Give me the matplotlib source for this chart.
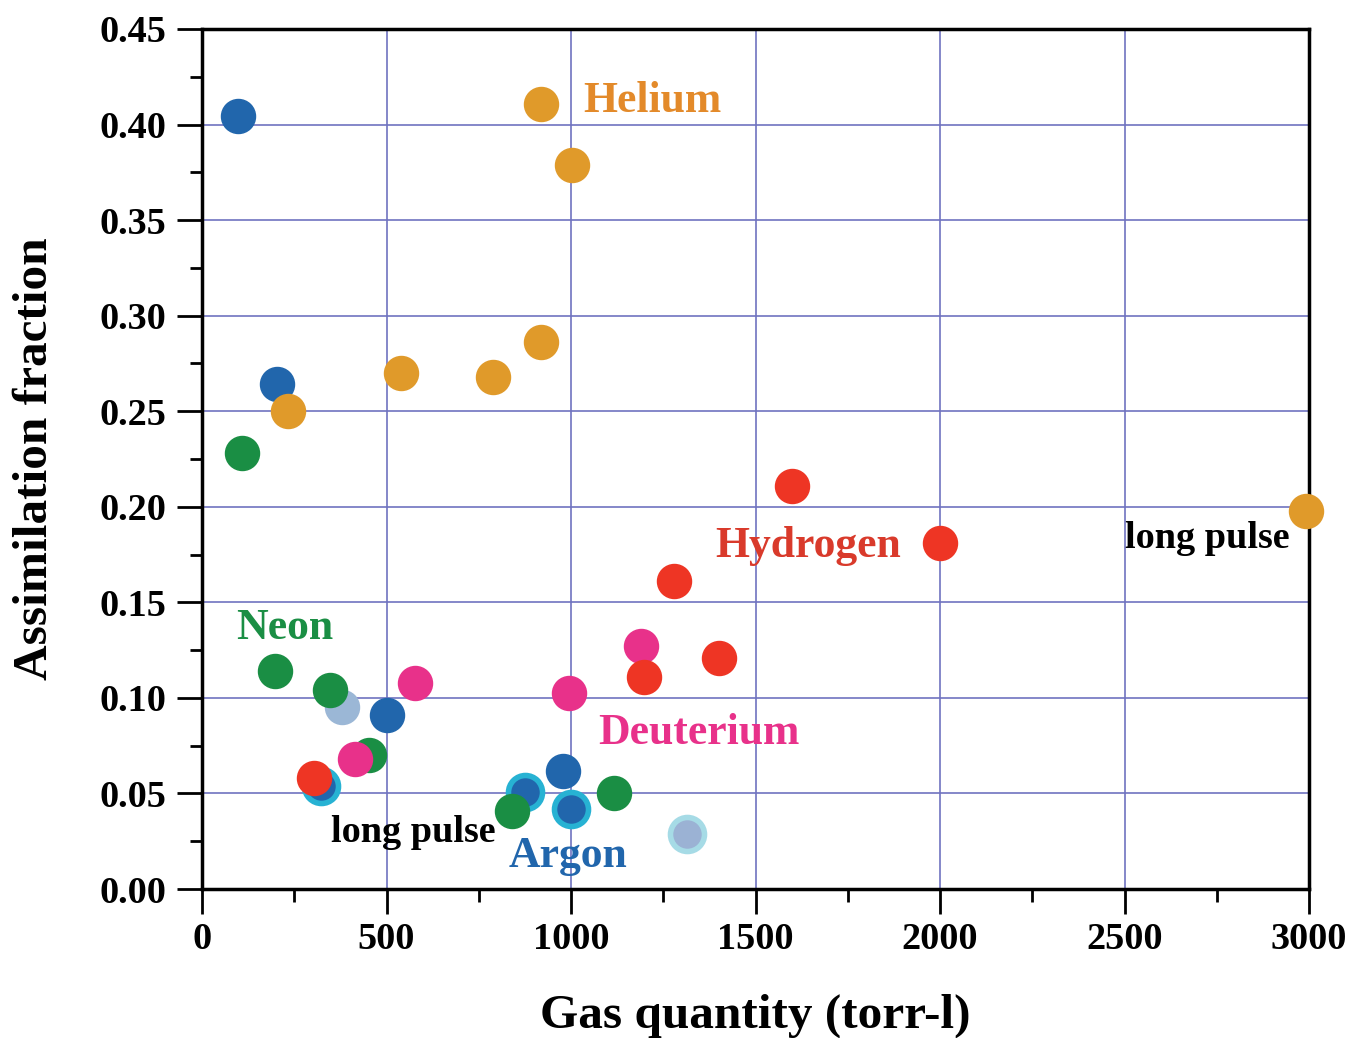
import matplotlib.pyplot as plt

# data (gas quantity in torr-l, assimilation fraction)
helium_x = [919, 1003, 919, 539, 789, 233, 2992]
helium_y = [0.411, 0.379, 0.286, 0.270, 0.268, 0.250, 0.198]

argon_x = [98, 203, 501, 978]
argon_y = [0.4045, 0.264, 0.091, 0.062]

argon_ring_x = [322, 875, 1000]
argon_ring_y = [0.054, 0.051, 0.042]

argon_light_x = [379]
argon_light_y = [0.095]

argon_light_ring_x = [1314]
argon_light_ring_y = [0.029]

neon_x = [108, 198, 347, 453, 840, 1117]
neon_y = [0.228, 0.114, 0.104, 0.070, 0.041, 0.050]

hydrogen_x = [1599, 2000, 1279, 1401, 1198, 304]
hydrogen_y = [0.211, 0.181, 0.161, 0.121, 0.111, 0.058]

deuterium_x = [1190, 577, 995, 415]
deuterium_y = [0.127, 0.108, 0.1026, 0.068]

x_ticks = [0, 500, 1000, 1500, 2000, 2500, 3000]
y_ticks = [0.00, 0.05, 0.10, 0.15, 0.20, 0.25, 0.30, 0.35, 0.40, 0.45]

plt.rcParams['font.family'] = ['Liberation Serif', 'DejaVu Serif']
plt.rcParams['font.weight'] = 'bold'

fig = plt.figure(figsize=(13.48, 10.38), dpi=100)
ax = fig.add_axes([0.1499, 0.1435, 0.8212, 0.8286])

s = 600
ax.scatter(argon_light_x, argon_light_y, s=s, color='#9bb7d6', zorder=3, clip_on=False)
ax.scatter(argon_light_ring_x, argon_light_ring_y, s=s, color='#9bb2d4', edgecolors='#a6dbe6',
           linewidths=4, zorder=3, clip_on=False)
ax.scatter(argon_ring_x, argon_ring_y, s=s, color='#2166ac', edgecolors='#27b2d3',
           linewidths=4, zorder=3, clip_on=False)
ax.scatter(argon_x, argon_y, s=s, color='#2166ac', zorder=3, clip_on=False)
ax.scatter(neon_x, neon_y, s=s, color='#1a8e44', zorder=4, clip_on=False)
ax.scatter(helium_x, helium_y, s=s, color='#e09a2a', zorder=4, clip_on=False)
ax.scatter(deuterium_x, deuterium_y, s=s, color='#e8318a', zorder=5, clip_on=False)
ax.scatter(hydrogen_x, hydrogen_y, s=s, color='#ee3524', zorder=6, clip_on=False)

fs = 31.5
ax.text(1032, 0.4125, 'Helium', color='#e38a2a', fontsize=fs, fontweight='bold', va='center')
ax.text(1390, 0.1795, 'Hydrogen', color='#d93a2b', fontsize=fs, fontweight='bold', va='center')
ax.text(92, 0.1365, 'Neon', color='#1a8e44', fontsize=fs, fontweight='bold', va='center')
ax.text(1073, 0.0815, 'Deuterium', color='#e8318a', fontsize=fs, fontweight='bold', va='center')
ax.text(830, 0.0175, 'Argon', color='#2166ac', fontsize=fs, fontweight='bold', va='center')
ax.text(2502, 0.1835, 'long pulse', color='black', fontsize=27.5, fontweight='bold', va='center')
ax.text(350, 0.0295, 'long pulse', color='black', fontsize=27.5, fontweight='bold', va='center')

ax.set_xlim(0, 3000)
ax.set_ylim(0, 0.45)
ax.set_xticks(x_ticks)
ax.set_yticks(y_ticks)
ax.set_xticks([250, 750, 1250, 1750, 2250, 2750], minor=True)
ax.set_yticks([0.025, 0.075, 0.125, 0.175, 0.225, 0.275, 0.325, 0.375, 0.425], minor=True)
ax.set_yticklabels(['%.2f' % v for v in y_ticks])
ax.tick_params(which='major', direction='out', length=18, width=2, labelsize=27.5, pad=6)
ax.tick_params(axis='y', which='major', pad=8)
ax.tick_params(which='minor', direction='out', length=9, width=2)
ax.grid(True, which='major', color='#6f73c0', linewidth=1.2)
ax.set_axisbelow(True)
for sp in ax.spines.values():
    sp.set_linewidth(2.5)

ax.set_xlabel('Gas quantity (torr-l)', fontsize=35.5, fontweight='bold', labelpad=26)
ax.set_ylabel('Assimilation fraction', fontsize=35.5, fontweight='bold', labelpad=30)

fig.savefig('out.png', dpi=100)
